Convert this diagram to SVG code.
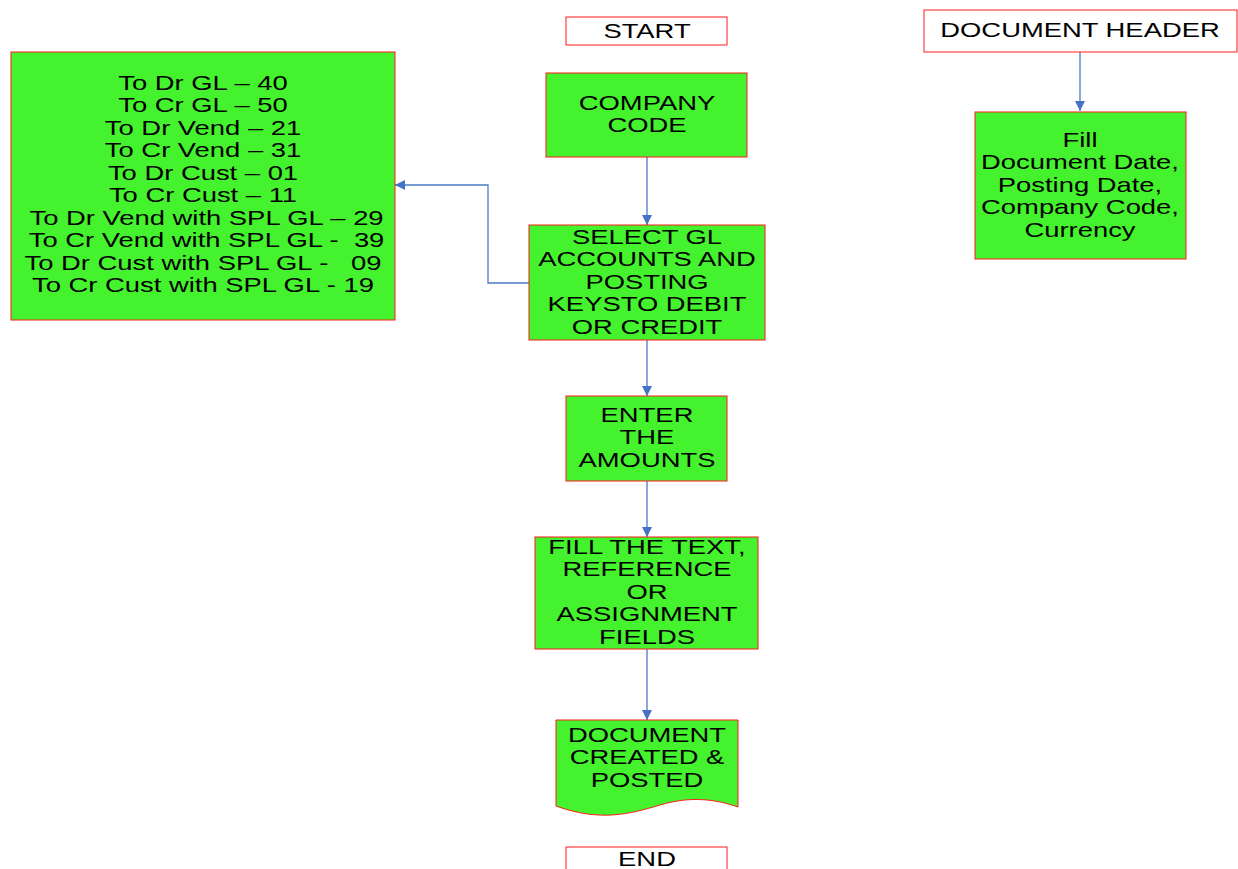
<svg xmlns="http://www.w3.org/2000/svg" width="1238" height="869" viewBox="0 0 1238 869">
<style>
.box{fill:#44f22d;stroke:#ff1a1a;stroke-width:1}
.wbox{fill:#ffffff;stroke:#ff1a1a;stroke-width:1}
text{font-family:"Liberation Sans",Arial,sans-serif;font-size:20px;fill:#000;text-anchor:middle;white-space:pre}
.conn{fill:none;stroke:#4a7cc9;stroke-width:1.3}
</style>
<defs>
<marker id="ah" viewBox="0 0 10 10" refX="10" refY="5" markerWidth="10" markerHeight="10" markerUnits="userSpaceOnUse" orient="auto">
<path d="M0,0 L10,5 L0,10 z" fill="#4472c4"/>
</marker>
</defs>
<rect width="1238" height="869" fill="#ffffff"/>
<g id="connectors">
<path class="conn" d="M647,157 L647,225" marker-end="url(#ah)"/>
<path class="conn" d="M647,340 L647,396" marker-end="url(#ah)"/>
<path class="conn" d="M647,481 L647,537" marker-end="url(#ah)"/>
<path class="conn" d="M647,649 L647,720" marker-end="url(#ah)"/>
<path class="conn" d="M529,283 L488,283 L488,185 L395,185" marker-end="url(#ah)"/>
<path class="conn" d="M1080,52 L1080,111" marker-end="url(#ah)"/>
</g>
<g id="start">
<rect class="wbox" x="566" y="17" width="161" height="28"/>
<g transform="translate(647 0) scale(1.37 1)"><text x="0" y="38">START</text></g>
</g>
<g id="company-code">
<rect class="box" x="546" y="73" width="201" height="84"/>
<g transform="translate(647 0) scale(1.37 1)"><text x="0" y="110">COMPANY</text><text x="0" y="132">CODE</text></g>
</g>
<g id="select-gl">
<rect class="box" x="529" y="225" width="236" height="115"/>
<g transform="translate(647 0) scale(1.37 1)"><text x="0" y="244">SELECT GL</text><text x="0" y="266.5">ACCOUNTS AND</text><text x="0" y="289">POSTING</text><text x="0" y="311.5">KEYSTO DEBIT</text><text x="0" y="334">OR CREDIT</text></g>
</g>
<g id="posting-keys">
<rect class="box" x="11" y="52" width="384" height="268"/>
<g transform="translate(203 0) scale(1.37 1)">
<text x="0" y="90">To Dr GL – 40</text>
<text x="0" y="112.5">To Cr GL – 50</text>
<text x="0" y="135">To Dr Vend – 21</text>
<text x="0" y="157.5">To Cr Vend – 31</text>
<text x="0" y="180">To Dr Cust – 01</text>
<text x="0" y="202.5">To Cr Cust – 11</text>
<text x="0" y="225"> To Dr Vend with SPL GL – 29</text>
<text x="0" y="247.5"> To Cr Vend with SPL GL -  39</text>
<text x="0" y="270">To Dr Cust with SPL GL -   09</text>
<text x="0" y="292.5">To Cr Cust with SPL GL - 19</text>
</g>
</g>
<g id="enter-amounts">
<rect class="box" x="566" y="396" width="161" height="85"/>
<g transform="translate(647 0) scale(1.37 1)"><text x="0" y="422">ENTER</text><text x="0" y="444.5">THE</text><text x="0" y="467">AMOUNTS</text></g>
</g>
<g id="fill-text">
<rect class="box" x="535" y="537" width="223" height="112"/>
<g transform="translate(647 0) scale(1.37 1)"><text x="0" y="554">FILL THE TEXT,</text><text x="0" y="576.5">REFERENCE</text><text x="0" y="599">OR</text><text x="0" y="621.5">ASSIGNMENT</text><text x="0" y="644">FIELDS</text></g>
</g>
<g id="document-posted">
<path class="box" d="M556,720 L738,720 L738,807 C715,799 690,796 660,805 C630,814 600,822 556,806 Z"/>
<g transform="translate(647 0) scale(1.37 1)"><text x="0" y="742">DOCUMENT</text><text x="0" y="764.5">CREATED &amp;</text><text x="0" y="787">POSTED</text></g>
</g>
<g id="end">
<rect class="wbox" x="566" y="847" width="161" height="30"/>
<g transform="translate(647 0) scale(1.37 1)"><text x="0" y="866">END</text></g>
</g>
<g id="document-header">
<rect class="wbox" x="924" y="10" width="313" height="42"/>
<g transform="translate(1080 0) scale(1.37 1)"><text x="0" y="37.5">DOCUMENT HEADER</text></g>
</g>
<g id="fill-header">
<rect class="box" x="975" y="112" width="211" height="147"/>
<g transform="translate(1080 0) scale(1.37 1)"><text x="0" y="147">Fill</text><text x="0" y="169.5">Document Date,</text><text x="0" y="192">Posting Date,</text><text x="0" y="214.5">Company Code,</text><text x="0" y="237">Currency</text></g>
</g>
</svg>
